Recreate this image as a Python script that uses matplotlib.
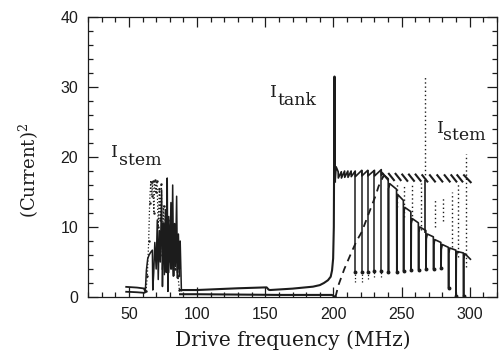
import numpy as np
import matplotlib
matplotlib.use('Agg')
import matplotlib.pyplot as plt
from matplotlib.ticker import MultipleLocator

plt.rcParams['mathtext.fontset'] = 'dejavuserif'

# ---- datos (frecuencia en MHz, corriente^2) ----
x_ticks = [50, 100, 150, 200, 250, 300]
y_ticks = [0, 10, 20, 30, 40]

# zona baja izquierda (antes de la resonancia del stem)
left_hi_f = [48, 52, 56, 60, 61.5]
left_hi_y = [1.45, 1.4, 1.35, 1.25, 1.2]
left_lo_f = [48, 52, 56, 60, 61.5, 62.0]
left_lo_y = [0.75, 0.72, 0.68, 0.62, 0.6, 0.7]

# picos del stem entre 60 y 90 MHz (trazo continuo)
stem_spk_f = [61.0, 62.0, 62.8, 63.8, 64.8, 66.0, 67.2, 67.5, 68.2, 69.0, 70.0, 70.8,
              71.5, 72.3, 73.0, 74.0, 74.6, 75.3, 76.0, 76.8, 77.4, 78.1, 78.6, 79.2,
              80.0, 80.8, 81.4, 82.1, 82.8, 83.5, 84.2, 85.0, 85.6, 86.3, 87.0, 87.6, 88.5]
stem_spk_y = [1.2, 0.7, 3.8, 5.5, 6.0, 6.4, 6.7, 1.0, 3.5, 7.8, 4.0, 11.0,
              2.5, 9.5, 5.0, 15.3, 1.5, 10.5, 6.0, 12.5, 3.5, 17.0, 0.8, 11.5,
              5.0, 13.5, 4.0, 16.0, 3.0, 10.5, 5.5, 14.4, 2.7, 9.0, 4.0, 8.0, 0.9]
stem_spk2_f = [74.5, 75.2, 76.0, 76.6, 77.2, 78.5, 79.2, 80.0, 80.7, 81.5, 82.5,
               83.2, 84.0, 84.8, 85.5, 86.5, 87.2]
stem_spk2_y = [4.0, 8.5, 3.2, 9.0, 4.5, 8.5, 3.5, 9.5, 4.0, 8.0, 3.0,
               9.0, 4.5, 7.5, 3.5, 7.0, 3.0]
# puntos (trazo punteado) en la misma zona
dot_l_f = [62.5, 63.5, 64.5, 65.2, 66.0, 66.8, 67.5, 68.3, 69.0, 69.8, 70.6, 71.5,
           72.3, 73.0, 73.8, 74.6, 75.5, 76.3, 77.0, 78.0, 79.0, 80.0, 81.0, 82.0,
           83.0, 84.0, 85.0, 86.0, 87.0]
dot_l_y = [0.8, 3.0, 8.0, 13.5, 16.5, 14.5, 16.6, 12.0, 16.7, 15.0, 16.6, 10.0,
           15.5, 11.0, 16.2, 6.0, 13.0, 7.0, 12.0, 5.0, 11.0, 6.0, 10.5, 5.5,
           9.0, 4.0, 8.0, 3.0, 1.0]

# I_tank por debajo de 200 MHz y pico de resonancia
tank_lo_f = [87.5, 100, 112, 130, 151, 152.5, 153.5, 170, 185, 190, 193, 196, 198,
             199, 199.8, 200.3, 200.8, 201.2]
tank_lo_y = [1.0, 1.0, 1.1, 1.25, 1.38, 1.05, 1.0, 1.2, 1.48, 1.7, 2.0, 2.4, 2.9,
             3.8, 5.5, 10.0, 31.5, 16.5]
# I_stem por debajo de 200 MHz
stem_lo_f = [87.5, 100, 130, 160, 190, 199, 200.5, 201.5]
stem_lo_y = [0.4, 0.4, 0.35, 0.3, 0.3, 0.3, 0.1, 0.0]

# I_tank entre 201 y 236 MHz (dientes de sierra)
tank_hi_f = [201.2, 202.0, 203.5, 203.6, 205.8, 205.9, 208.2, 208.3, 210.6, 210.7,
             213.0, 213.1, 216.0, 216.1, 220.8, 220.9, 225.2, 225.3, 230.1, 230.2,
             235.1, 235.2, 236.5]
tank_hi_y = [16.5, 18.6, 17.9, 17.0, 17.9, 17.0, 18.0, 17.1, 18.0, 17.1,
             18.0, 17.2, 18.0, 17.2, 18.1, 17.3, 18.1, 17.3, 18.1, 17.3,
             18.2, 17.4, 17.6]
tank_drop_f = [216.0, 220.8, 225.2, 230.1, 235.1]
tank_drop_top = [18.0, 18.1, 18.1, 18.1, 18.2]
tank_drop_bot = [3.6, 3.6, 3.6, 3.7, 3.7]
tank_drop_dot = [2.2, 2.2, 2.6, 2.9, 2.9]

# I_tank por encima de 236 MHz (trazos inclinados)
tank_sl_f0 = [235.8, 240.7, 245.6, 250.5, 255.4, 260.3, 265.2, 270.8, 276.2, 281.6,
              286.5, 290.9, 295.8]
tank_sl_f1 = [239.9, 244.4, 249.3, 254.2, 259.1, 264.0, 268.9, 274.5, 279.9, 285.3,
              290.2, 294.6, 300.7]
tank_sl_y0 = [17.7, 17.6, 17.6, 17.5, 17.5, 17.5, 17.4, 17.4, 17.4, 17.4,
              17.4, 17.4, 17.4]
tank_sl_y1 = [16.8, 16.7, 16.7, 16.6, 16.6, 16.6, 16.5, 16.5, 16.5, 16.5,
              16.5, 16.5, 16.4]

# I_stem ascendente (discontinua) 201-237 MHz
stem_dash_f = [201.5, 203.7, 208, 213.5, 217, 220.8, 224.5, 228.2, 231, 233.1, 235, 236.5]
stem_dash_y = [0.0, 1.7, 4.0, 6.5, 8.0, 9.3, 11.2, 13.1, 14.5, 15.8, 16.6, 17.2]

# I_stem por encima de 236 MHz: arcos con caidas
stem_dip_f = [240.4, 246.5, 251.5, 257.0, 262.5, 268.0, 273.5, 279.0, 284.5, 290.0, 295.5]
stem_dip_pre = [16.9, 15.4, 13.8, 12.2, 10.6, 9.5, 8.6, 7.8, 7.1, 6.7, 6.3]
stem_dip_bot = [3.6, 3.6, 3.7, 3.8, 3.9, 4.0, 4.0, 4.1, 1.3, 0.1, 0.1]
stem_arch_top = [16.2, 14.6, 12.8, 11.2, 10.0, 9.0, 8.2, 7.5, 7.0, 6.5, 6.2]
stem_peak = (237.3, 17.4)
stem_end = (300.5, 5.4)
stem_spike_f = 266.9
stem_spike_rng = (9.2, 16.7)

# verticales punteadas del stem
dotv_f = [246.8, 251.7, 257.9, 264.0, 266.9, 274.6, 280.6, 286.8, 291.4, 297.0]
dotv_top = [16.2, 15.8, 16.3, 16.3, 31.5, 13.9, 14.3, 15.0, 16.3, 20.5]
dotv_bot = [12.9, 11.5, 11.0, 9.6, 16.8, 10.0, 10.8, 7.2, 5.7, 4.3]

ink = '#1c1c1c'


def segmentos(x0, y0, x1, y1):
    xs, ys = [], []
    for a, b, c, d in zip(x0, y0, x1, y1):
        xs += [a, c, np.nan]
        ys += [b, d, np.nan]
    return xs, ys


def arcos(inicio, dip_f, pre, bot, top, fin):
    xs, ys = [stem_dash_f[-1], inicio[0]], [stem_dash_y[-1], inicio[1]]
    for f, p, b, t in zip(dip_f, pre, bot, top):
        xs += [f - 0.2, f, f + 0.15, f + 0.9]
        ys += [p, b, t - 0.7, t]
    xs.append(fin[0])
    ys.append(fin[1])
    return xs, ys


fig = plt.figure(figsize=(4.99, 3.57), dpi=100)
ax = fig.add_axes([0.1764, 0.168, 0.8196, 0.7843])

# lado izquierdo
ax.plot(left_hi_f, left_hi_y, color=ink, lw=1.3)
ax.plot(left_lo_f, left_lo_y, color=ink, lw=1.3)
ax.plot(stem_spk_f, stem_spk_y, color=ink, lw=1.1)
ax.plot(stem_spk2_f, stem_spk2_y, color=ink, lw=1.1)
ax.plot(dot_l_f, dot_l_y, color=ink, lw=0.9, ls=':', marker='.', ms=1.5)

# por debajo de 200 MHz
ax.plot(tank_lo_f, tank_lo_y, color=ink, lw=1.5)
ax.plot(stem_lo_f, stem_lo_y, color=ink, lw=1.5)

# I_tank encima de 200 MHz
ax.plot(tank_hi_f, tank_hi_y, color=ink, lw=1.2)
ax.vlines(tank_drop_f, tank_drop_bot, tank_drop_top, color=ink, lw=1.1)
ax.plot(tank_drop_f, tank_drop_bot, ls='none', marker='o', ms=1.8, color=ink)
ax.vlines(tank_drop_f, tank_drop_dot, tank_drop_bot, color=ink, lw=0.9, linestyles=':')
sx, sy = segmentos(tank_sl_f0, tank_sl_y0, tank_sl_f1, tank_sl_y1)
ax.plot(sx, sy, color=ink, lw=1.5)

# I_stem encima de 200 MHz
ax.plot(stem_dash_f, stem_dash_y, color=ink, lw=1.3, ls=(0, (4, 3)))
axs, ays = arcos(stem_peak, stem_dip_f, stem_dip_pre, stem_dip_bot, stem_arch_top, stem_end)
ax.plot(axs, ays, color=ink, lw=1.2)
ax.plot(stem_dip_f, stem_dip_bot, ls='none', marker='o', ms=1.8, color=ink)
ax.vlines([stem_spike_f], [stem_spike_rng[0]], [stem_spike_rng[1]], color=ink, lw=1.2)
ax.vlines(dotv_f, dotv_bot, dotv_top, color=ink, lw=1.0, linestyles=(0, (1, 2)))

# textos
txt = dict(family='DejaVu Serif', fontsize=12.5, color=ink)
ax.text(37.2, 20.0, 'I', **txt)
ax.text(42.6, 18.9, 'stem', **txt)
ax.text(276.3, 23.4, 'I', **txt)
ax.text(280.6, 22.4, 'stem', **txt)
ax.text(153.5, 28.6, 'I', **txt)
ax.text(158.8, 27.4, 'tank', **txt)

# ejes
ax.set_xlim(20, 320)
ax.set_ylim(0, 40)
ax.set_xticks(x_ticks)
ax.set_yticks(y_ticks)
ax.xaxis.set_minor_locator(MultipleLocator(10))
ax.yaxis.set_minor_locator(MultipleLocator(2))
ax.tick_params(which='both', direction='in', top=True, right=True, color=ink, width=0.9)
ax.tick_params(which='major', length=7, pad=7, labelsize=11.5, labelcolor=ink)
ax.tick_params(which='minor', length=3.5)
for lab in ax.get_xticklabels() + ax.get_yticklabels():
    lab.set_family('Liberation Sans')
for sp in ax.spines.values():
    sp.set_color(ink)
    sp.set_linewidth(0.9)

ax.set_xlabel('Drive frequency (MHz)', family='DejaVu Serif', fontsize=14.5, color=ink)
ax.xaxis.set_label_coords(0.5, -0.12)
ax.set_ylabel('(Current)$^2$', family='DejaVu Serif', fontsize=13, color=ink)
ax.yaxis.set_label_coords(-0.115, 0.4536)

plt.savefig('out.png', dpi=100)
